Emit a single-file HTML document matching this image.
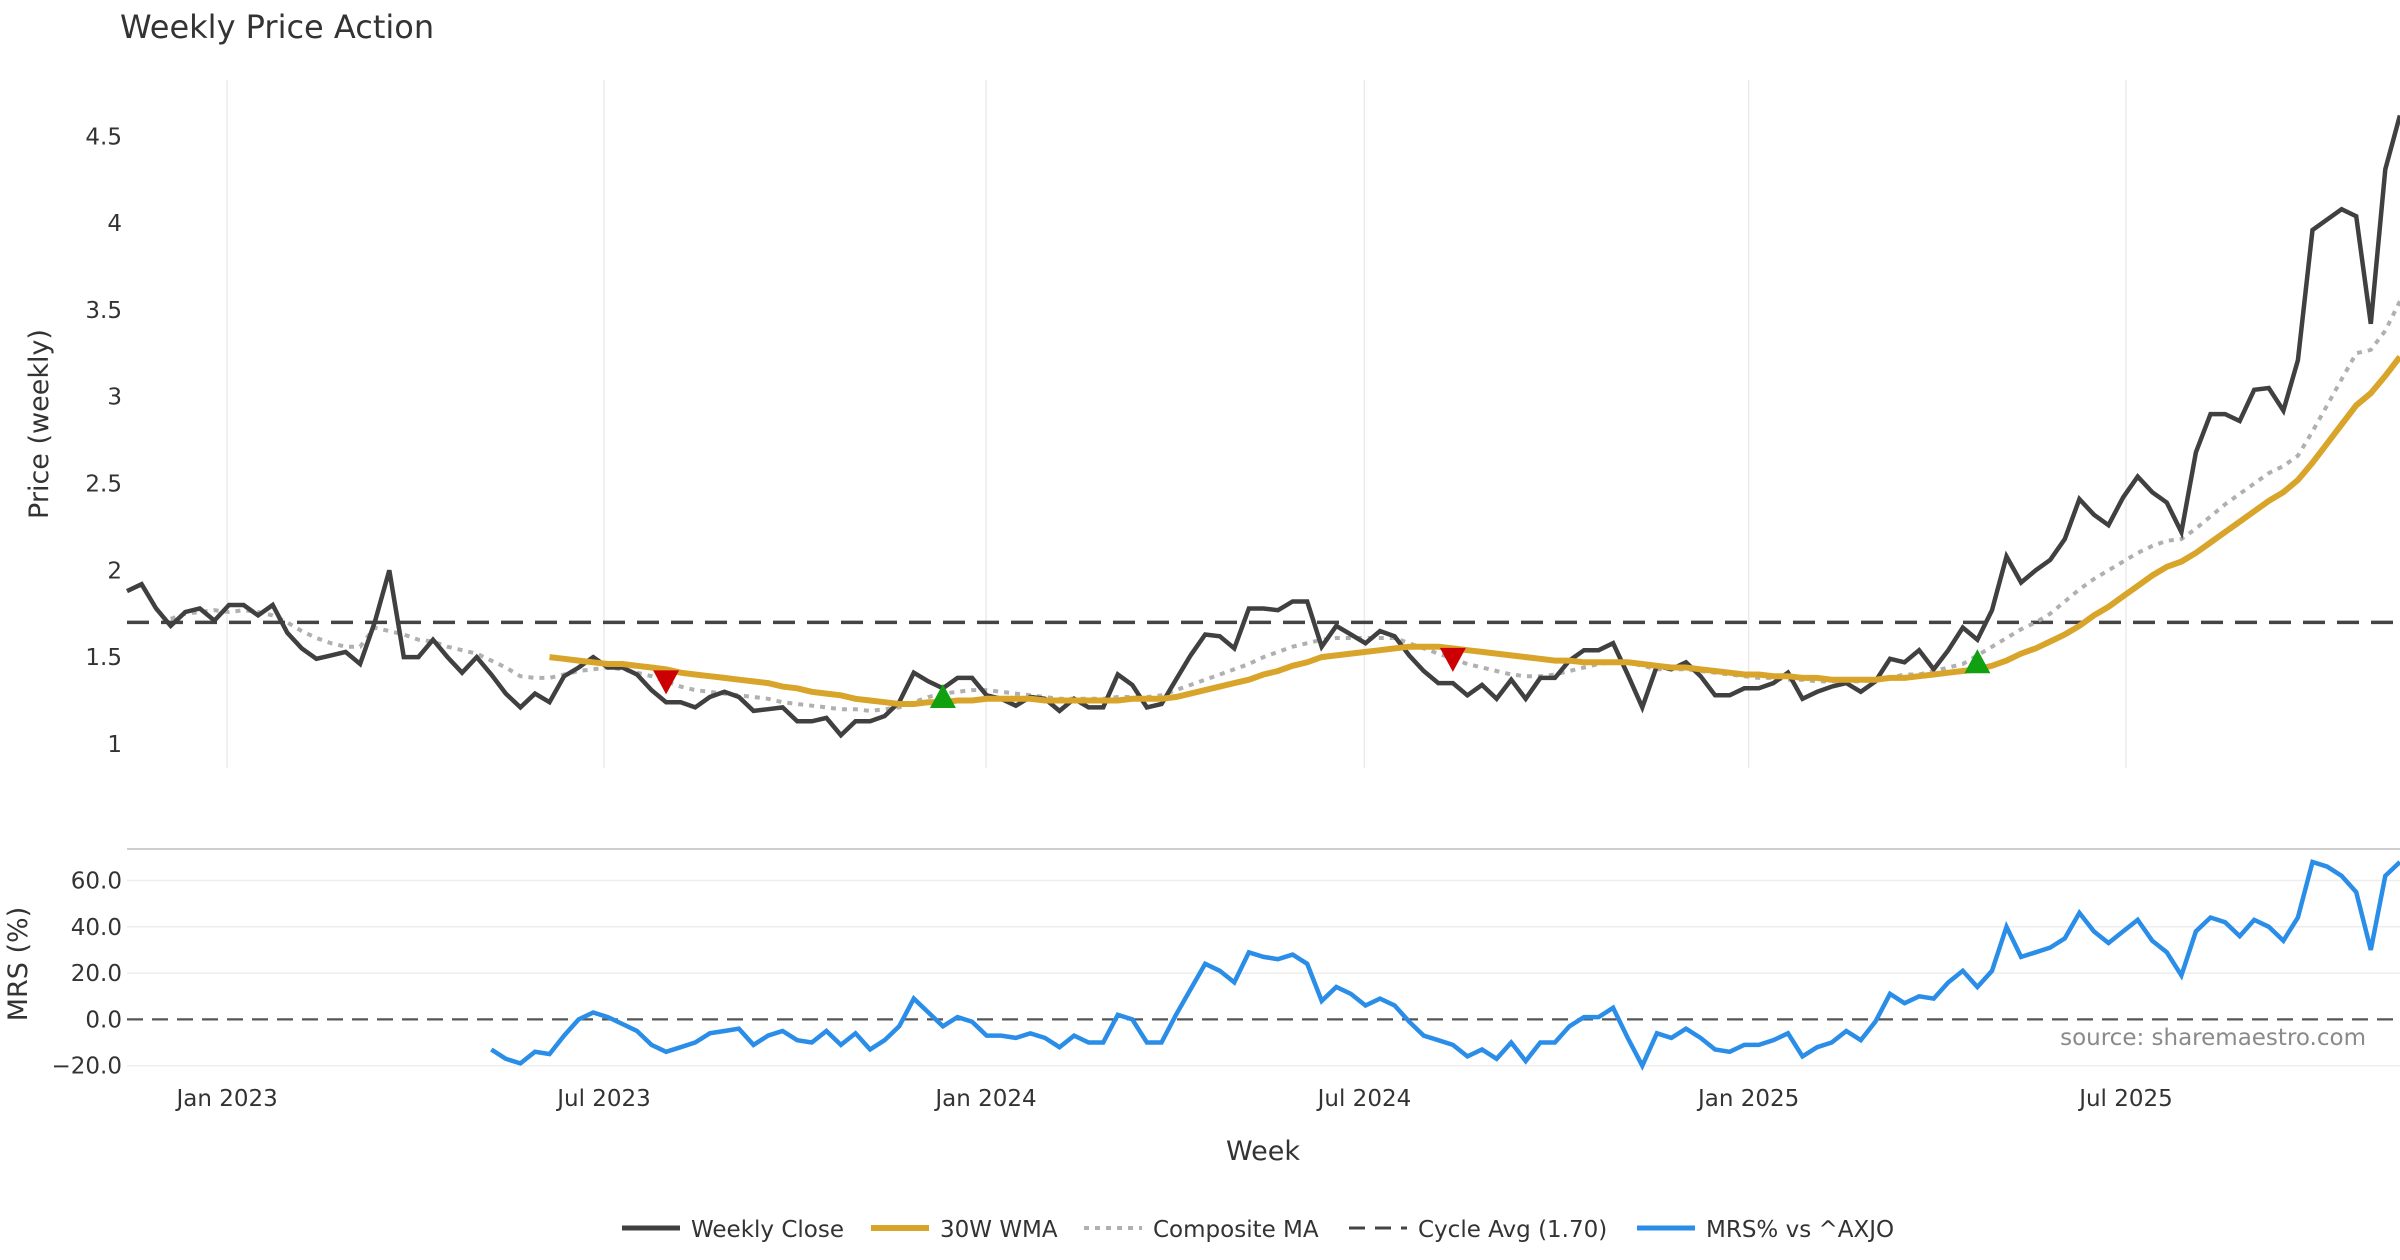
<!DOCTYPE html>
<html><head><meta charset="utf-8">
<style>
html,body{margin:0;padding:0;background:#fff;}
svg{display:block;font-family:"DejaVu Sans","Liberation Sans",sans-serif;}
</style></head>
<body>
<svg id="chart" width="2400" height="1260" viewBox="0 0 2400 1260" xmlns="http://www.w3.org/2000/svg">
<rect x="0" y="0" width="2400" height="1260" fill="#fff"/>
<text x="120" y="38" font-size="32" fill="#333">Weekly Price Action</text>
<g id="grid"></g>
<g id="price"></g>
<g id="mrs"></g>
<text x="48" y="424" font-size="27" fill="#333" text-anchor="middle" transform="rotate(-90 48 424)">Price (weekly)</text>
<text x="27" y="964" font-size="27" fill="#333" text-anchor="middle" transform="rotate(-90 27 964)">MRS (%)</text>
<text x="1263" y="1160" font-size="27" fill="#333" text-anchor="middle">Week</text>
<text x="2366" y="1045" font-size="23" fill="#8a8a8a" text-anchor="end">source: sharemaestro.com</text>
<g id="legend"></g>
</svg>
<script>
const closeVals=[1.88,1.92,1.78,1.68,1.76,1.78,1.71,1.80,1.80,1.74,1.80,1.64,1.55,1.49,1.51,1.53,1.46,1.70,2.00,1.50,1.50,1.60,1.50,1.41,1.50,1.40,1.29,1.21,1.29,1.24,1.39,1.44,1.50,1.44,1.44,1.40,1.31,1.24,1.24,1.21,1.27,1.30,1.27,1.19,1.20,1.21,1.13,1.13,1.15,1.05,1.13,1.13,1.16,1.24,1.41,1.36,1.32,1.38,1.38,1.28,1.26,1.22,1.27,1.26,1.19,1.26,1.21,1.21,1.40,1.34,1.21,1.23,1.37,1.51,1.63,1.62,1.55,1.78,1.78,1.77,1.82,1.82,1.56,1.68,1.63,1.58,1.65,1.62,1.51,1.42,1.35,1.35,1.28,1.34,1.26,1.37,1.26,1.38,1.38,1.48,1.54,1.54,1.58,1.40,1.21,1.45,1.43,1.47,1.39,1.28,1.28,1.32,1.32,1.35,1.41,1.26,1.30,1.33,1.35,1.30,1.36,1.49,1.47,1.54,1.43,1.54,1.67,1.60,1.77,2.08,1.93,2.00,2.06,2.18,2.41,2.32,2.26,2.42,2.54,2.45,2.39,2.22,2.68,2.90,2.90,2.86,3.04,3.05,2.92,3.21,3.96,4.02,4.08,4.04,3.42,4.31,4.62];
const wmaStart=29;
const wmaVals=[1.50,1.49,1.48,1.47,1.46,1.46,1.45,1.44,1.43,1.41,1.40,1.39,1.38,1.37,1.36,1.35,1.33,1.32,1.30,1.29,1.28,1.26,1.25,1.24,1.23,1.23,1.24,1.24,1.25,1.25,1.26,1.26,1.26,1.26,1.25,1.25,1.25,1.25,1.25,1.25,1.26,1.26,1.26,1.27,1.29,1.31,1.33,1.35,1.37,1.40,1.42,1.45,1.47,1.50,1.51,1.52,1.53,1.54,1.55,1.56,1.56,1.56,1.55,1.54,1.53,1.52,1.51,1.50,1.49,1.48,1.48,1.47,1.47,1.47,1.47,1.46,1.45,1.44,1.44,1.43,1.42,1.41,1.40,1.40,1.39,1.39,1.38,1.38,1.37,1.37,1.37,1.37,1.38,1.38,1.39,1.40,1.41,1.42,1.43,1.45,1.48,1.52,1.55,1.59,1.63,1.68,1.74,1.79,1.85,1.91,1.97,2.02,2.05,2.10,2.16,2.22,2.28,2.34,2.40,2.45,2.52,2.62,2.73,2.84,2.95,3.02,3.12,3.23];
const compStart=3;
const compVals=[1.72,1.75,1.76,1.77,1.76,1.77,1.76,1.74,1.70,1.65,1.61,1.58,1.56,1.56,1.67,1.65,1.63,1.60,1.59,1.56,1.54,1.52,1.48,1.44,1.39,1.38,1.38,1.40,1.42,1.43,1.44,1.43,1.41,1.39,1.36,1.33,1.31,1.30,1.29,1.28,1.27,1.26,1.24,1.23,1.22,1.21,1.20,1.20,1.19,1.20,1.21,1.24,1.27,1.29,1.30,1.31,1.31,1.30,1.29,1.28,1.27,1.26,1.26,1.26,1.26,1.27,1.27,1.27,1.28,1.31,1.34,1.37,1.40,1.43,1.46,1.50,1.53,1.56,1.58,1.60,1.61,1.61,1.61,1.61,1.61,1.58,1.55,1.52,1.49,1.46,1.44,1.42,1.40,1.39,1.39,1.40,1.42,1.44,1.46,1.47,1.47,1.45,1.43,1.43,1.43,1.42,1.41,1.40,1.39,1.38,1.38,1.37,1.37,1.36,1.36,1.36,1.36,1.37,1.38,1.40,1.40,1.42,1.44,1.46,1.51,1.56,1.61,1.66,1.70,1.75,1.82,1.89,1.95,2.00,2.05,2.10,2.14,2.17,2.18,2.24,2.31,2.38,2.44,2.50,2.56,2.60,2.66,2.80,2.95,3.10,3.25,3.27,3.38,3.55];
const mrsVals=[-13,-17,-19,-14,-15,-7,0,3,1,-2,-5,-11,-14,-12,-10,-6,-5,-4,-11,-7,-5,-9,-10,-5,-11,-6,-13,-9,-3,9,3,-3,1,-1,-7,-7,-8,-6,-8,-12,-7,-10,-10,2,0,-10,-10,2,13,24,21,16,29,27,26,28,24,8,14,11,6,9,6,-1,-7,-9,-11,-16,-13,-17,-10,-18,-10,-10,-3,1,1,5,-8,-20,-6,-8,-4,-8,-13,-14,-11,-11,-9,-6,-16,-12,-10,-5,-9,-1,11,7,10,9,16,21,14,21,40,27,29,31,35,46,38,33,38,43,34,29,19,38,44,42,36,43,40,34,44,68,66,62,55,30,62,68];
const cycleAvg=1.70;
const sellIdx=[37,91];
const sellVals=[1.36,1.49];
const buyIdx=[56,127];
const buyVals=[1.27,1.47];
const priceTicks=[1,1.5,2,2.5,3,3.5,4,4.5];
const priceTickLabels=["1","1.5","2","2.5","3","3.5","4","4.5"];
const mrsTicks=[-20,0,20,40,60];
const mrsTickLabels=["−20.0","0.0","20.0","40.0","60.0"];
const dateTickIdx=[6.87,32.74,58.96,84.93,111.3,137.2];
const dateTickLabels=["Jan 2023","Jul 2023","Jan 2024","Jul 2024","Jan 2025","Jul 2025"];

const NS="http://www.w3.org/2000/svg";
const X0=127, DX=14.57;
const xs=i=>X0+i*DX;
const py=p=>743.9-(p-1)*173.6;
const my=v=>1019.4-v*2.315;
function mk(tag,attrs,parent){const e=document.createElementNS(NS,tag);for(const k in attrs)e.setAttribute(k,attrs[k]);parent.appendChild(e);return e;}
function pathFrom(vals,start,yf){return vals.map((v,j)=>(j?"L":"M")+xs(start+j).toFixed(1)+","+yf(v).toFixed(1)).join("");}
const gridG=document.getElementById("grid"), priceG=document.getElementById("price"), mrsG=document.getElementById("mrs"), legendG=document.getElementById("legend");

dateTickIdx.forEach((ti,k)=>{
  const x=xs(ti);
  const g=mk("line",{x1:x,x2:x,y1:80,y2:768,stroke:"#ebebeb","stroke-width":1.5},gridG);
  
  
  const t=mk("text",{x:x,y:1106,"font-size":23,fill:"#333","text-anchor":"middle"},gridG);
  
  
  t.textContent=dateTickLabels[k];
});
priceTicks.forEach((p,k)=>{
  const t=mk("text",{x:122,y:py(p)+8,"font-size":23,fill:"#333","text-anchor":"end"},priceG);
  
  
  t.textContent=priceTickLabels[k];
});
const cyc=mk("line",{x1:127,x2:2400,y1:py(cycleAvg),y2:py(cycleAvg),stroke:"#444","stroke-width":3.5,"stroke-dasharray":"22 12"},priceG);


const comp=mk("path",{d:pathFrom(compVals,compStart,py),fill:"none",stroke:"#b0b0b0","stroke-width":4,"stroke-dasharray":"5 6"},priceG);


const cl=mk("path",{d:pathFrom(closeVals,0,py),fill:"none",stroke:"#404040","stroke-width":4.5},priceG);


const wm=mk("path",{d:pathFrom(wmaVals,wmaStart,py),fill:"none",stroke:"#d8a52a","stroke-width":6},priceG);


sellIdx.forEach((i,k)=>{
  const x=xs(i), y=py(sellVals[k]);
  const m=mk("polygon",{points:`${x-13},${y-11} ${x+13},${y-11} ${x},${y+13}`,fill:"#cc0000"},priceG);
  
  
});
buyIdx.forEach((i,k)=>{
  const x=xs(i), y=py(buyVals[k]);
  const m=mk("polygon",{points:`${x-13},${y+11} ${x+13},${y+11} ${x},${y-13}`,fill:"#10a010"},priceG);
  
  
});
const mrsBorder=mk("line",{x1:127,x2:2400,y1:849,y2:849,stroke:"#cfcfcf","stroke-width":2},mrsG);


mrsTicks.forEach((v,k)=>{
  if(v!==0){
    const g=mk("line",{x1:127,x2:2400,y1:my(v),y2:my(v),stroke:"#eeeeee","stroke-width":1.5},mrsG);
    
    
  }
  const t=mk("text",{x:122,y:my(v)+8,"font-size":23,fill:"#333","text-anchor":"end"},mrsG);
  
  
  t.textContent=mrsTickLabels[k];
});
const zl=mk("line",{x1:127,x2:2400,y1:my(0),y2:my(0),stroke:"#555","stroke-width":2.2,"stroke-dasharray":"16 9"},mrsG);


const mrsStart=closeVals.length-mrsVals.length;
const ml=mk("path",{d:pathFrom(mrsVals,mrsStart,my),fill:"none",stroke:"#2a8ee8","stroke-width":4.5},mrsG);


const legItems=[
 {x:622,label:"Weekly Close",stroke:"#404040",dash:"",w:5},
 {x:871,label:"30W WMA",stroke:"#d8a52a",dash:"",w:6},
 {x:1084,label:"Composite MA",stroke:"#b0b0b0",dash:"5 6",w:4},
 {x:1349,label:"Cycle Avg (1.70)",stroke:"#444",dash:"16 10",w:3},
 {x:1637,label:"MRS% vs ^AXJO",stroke:"#2a8ee8",dash:"",w:5}
];
legItems.forEach(it=>{
  const g=mk("g",{},legendG);
  
  
  const l=mk("line",{x1:it.x,x2:it.x+58,y1:1228,y2:1228,stroke:it.stroke,"stroke-width":it.w,"stroke-dasharray":it.dash},g);
  
  
  const t=mk("text",{x:it.x+69,y:1237,"font-size":23,fill:"#333"},g);
  
  
  t.textContent=it.label;
});
</script>
</body></html>
